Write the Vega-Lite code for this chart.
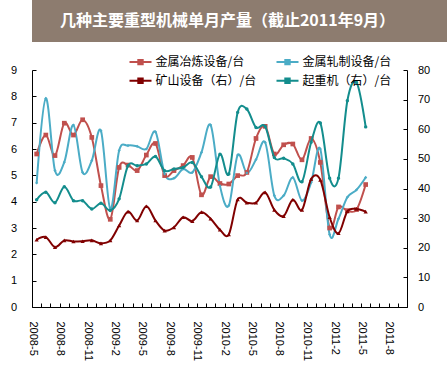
{
  "$schema": "https://vega.github.io/schema/vega-lite/v6.json",
  "padding": 0,
  "background": "white",
  "spacing": 22,
  "config": {"view": {"stroke": null}, "font": "Noto Sans CJK SC"},
  "datasets": {
    "header": [{"title": "几种主要重型机械单月产量（截止2011年9月）"}],
    "production": [
      {"month": "2008/05/01", "series": "金属冶炼设备/台", "value": 5.81},
      {"month": "2008/06/01", "series": "金属冶炼设备/台", "value": 6.53},
      {"month": "2008/07/01", "series": "金属冶炼设备/台", "value": 5.75},
      {"month": "2008/08/01", "series": "金属冶炼设备/台", "value": 6.98},
      {"month": "2008/09/01", "series": "金属冶炼设备/台", "value": 6.53},
      {"month": "2008/10/01", "series": "金属冶炼设备/台", "value": 7.11},
      {"month": "2008/11/01", "series": "金属冶炼设备/台", "value": 6.44},
      {"month": "2008/12/01", "series": "金属冶炼设备/台", "value": 4.61},
      {"month": "2009/01/01", "series": "金属冶炼设备/台", "value": 3.33},
      {"month": "2009/02/01", "series": "金属冶炼设备/台", "value": 5.30},
      {"month": "2009/03/01", "series": "金属冶炼设备/台", "value": 5.39},
      {"month": "2009/04/01", "series": "金属冶炼设备/台", "value": 5.18},
      {"month": "2009/05/01", "series": "金属冶炼设备/台", "value": 5.77},
      {"month": "2009/06/01", "series": "金属冶炼设备/台", "value": 6.21},
      {"month": "2009/07/01", "series": "金属冶炼设备/台", "value": 4.99},
      {"month": "2009/08/01", "series": "金属冶炼设备/台", "value": 5.18},
      {"month": "2009/09/01", "series": "金属冶炼设备/台", "value": 5.37},
      {"month": "2009/10/01", "series": "金属冶炼设备/台", "value": 5.68},
      {"month": "2009/11/01", "series": "金属冶炼设备/台", "value": 4.26},
      {"month": "2009/12/01", "series": "金属冶炼设备/台", "value": 4.95},
      {"month": "2010/01/01", "series": "金属冶炼设备/台", "value": 4.69},
      {"month": "2010/02/01", "series": "金属冶炼设备/台", "value": 4.67},
      {"month": "2010/03/01", "series": "金属冶炼设备/台", "value": 4.99},
      {"month": "2010/04/01", "series": "金属冶炼设备/台", "value": 5.11},
      {"month": "2010/05/01", "series": "金属冶炼设备/台", "value": 6.40},
      {"month": "2010/06/01", "series": "金属冶炼设备/台", "value": 6.86},
      {"month": "2010/07/01", "series": "金属冶炼设备/台", "value": 5.81},
      {"month": "2010/08/01", "series": "金属冶炼设备/台", "value": 6.16},
      {"month": "2010/09/01", "series": "金属冶炼设备/台", "value": 6.19},
      {"month": "2010/10/01", "series": "金属冶炼设备/台", "value": 5.59},
      {"month": "2010/11/01", "series": "金属冶炼设备/台", "value": 6.40},
      {"month": "2010/12/01", "series": "金属冶炼设备/台", "value": 5.49},
      {"month": "2011/01/01", "series": "金属冶炼设备/台", "value": 3.00},
      {"month": "2011/02/01", "series": "金属冶炼设备/台", "value": 3.80},
      {"month": "2011/03/01", "series": "金属冶炼设备/台", "value": 3.66},
      {"month": "2011/04/01", "series": "金属冶炼设备/台", "value": 3.70},
      {"month": "2011/05/01", "series": "金属冶炼设备/台", "value": 4.65},
      {"month": "2008/05/01", "series": "金属轧制设备/台", "value": 4.71},
      {"month": "2008/06/01", "series": "金属轧制设备/台", "value": 7.92},
      {"month": "2008/07/01", "series": "金属轧制设备/台", "value": 5.18},
      {"month": "2008/08/01", "series": "金属轧制设备/台", "value": 5.50},
      {"month": "2008/09/01", "series": "金属轧制设备/台", "value": 6.91},
      {"month": "2008/10/01", "series": "金属轧制设备/台", "value": 5.11},
      {"month": "2008/11/01", "series": "金属轧制设备/台", "value": 5.56},
      {"month": "2008/12/01", "series": "金属轧制设备/台", "value": 6.69},
      {"month": "2009/01/01", "series": "金属轧制设备/台", "value": 3.72},
      {"month": "2009/02/01", "series": "金属轧制设备/台", "value": 5.94},
      {"month": "2009/03/01", "series": "金属轧制设备/台", "value": 6.13},
      {"month": "2009/04/01", "series": "金属轧制设备/台", "value": 6.10},
      {"month": "2009/05/01", "series": "金属轧制设备/台", "value": 6.00},
      {"month": "2009/06/01", "series": "金属轧制设备/台", "value": 6.65},
      {"month": "2009/07/01", "series": "金属轧制设备/台", "value": 5.05},
      {"month": "2009/08/01", "series": "金属轧制设备/台", "value": 4.89},
      {"month": "2009/09/01", "series": "金属轧制设备/台", "value": 5.24},
      {"month": "2009/10/01", "series": "金属轧制设备/台", "value": 5.11},
      {"month": "2009/11/01", "series": "金属轧制设备/台", "value": 5.87},
      {"month": "2009/12/01", "series": "金属轧制设备/台", "value": 6.91},
      {"month": "2010/01/01", "series": "金属轧制设备/台", "value": 4.60},
      {"month": "2010/02/01", "series": "金属轧制设备/台", "value": 3.85},
      {"month": "2010/03/01", "series": "金属轧制设备/台", "value": 5.77},
      {"month": "2010/04/01", "series": "金属轧制设备/台", "value": 5.09},
      {"month": "2010/05/01", "series": "金属轧制设备/台", "value": 5.60},
      {"month": "2010/06/01", "series": "金属轧制设备/台", "value": 6.25},
      {"month": "2010/07/01", "series": "金属轧制设备/台", "value": 4.23},
      {"month": "2010/08/01", "series": "金属轧制设备/台", "value": 4.23},
      {"month": "2010/09/01", "series": "金属轧制设备/台", "value": 4.92},
      {"month": "2010/10/01", "series": "金属轧制设备/台", "value": 4.04},
      {"month": "2010/11/01", "series": "金属轧制设备/台", "value": 4.73},
      {"month": "2010/12/01", "series": "金属轧制设备/台", "value": 6.00},
      {"month": "2011/01/01", "series": "金属轧制设备/台", "value": 2.75},
      {"month": "2011/02/01", "series": "金属轧制设备/台", "value": 3.35},
      {"month": "2011/03/01", "series": "金属轧制设备/台", "value": 4.17},
      {"month": "2011/04/01", "series": "金属轧制设备/台", "value": 4.45},
      {"month": "2011/05/01", "series": "金属轧制设备/台", "value": 4.92},
      {"month": "2008/05/01", "series": "矿山设备（右）/台", "value": 22.7},
      {"month": "2008/06/01", "series": "矿山设备（右）/台", "value": 23.6},
      {"month": "2008/07/01", "series": "矿山设备（右）/台", "value": 20.2},
      {"month": "2008/08/01", "series": "矿山设备（右）/台", "value": 22.5},
      {"month": "2008/09/01", "series": "矿山设备（右）/台", "value": 22.1},
      {"month": "2008/10/01", "series": "矿山设备（右）/台", "value": 22.2},
      {"month": "2008/11/01", "series": "矿山设备（右）/台", "value": 22.5},
      {"month": "2008/12/01", "series": "矿山设备（右）/台", "value": 21.5},
      {"month": "2009/01/01", "series": "矿山设备（右）/台", "value": 22.5},
      {"month": "2009/02/01", "series": "矿山设备（右）/台", "value": 27.5},
      {"month": "2009/03/01", "series": "矿山设备（右）/台", "value": 32.2},
      {"month": "2009/04/01", "series": "矿山设备（右）/台", "value": 29.2},
      {"month": "2009/05/01", "series": "矿山设备（右）/台", "value": 34.0},
      {"month": "2009/06/01", "series": "矿山设备（右）/台", "value": 29.2},
      {"month": "2009/07/01", "series": "矿山设备（右）/台", "value": 25.8},
      {"month": "2009/08/01", "series": "矿山设备（右）/台", "value": 26.9},
      {"month": "2009/09/01", "series": "矿山设备（右）/台", "value": 30.3},
      {"month": "2009/10/01", "series": "矿山设备（右）/台", "value": 29.0},
      {"month": "2009/11/01", "series": "矿山设备（右）/台", "value": 32.0},
      {"month": "2009/12/01", "series": "矿山设备（右）/台", "value": 29.8},
      {"month": "2010/01/01", "series": "矿山设备（右）/台", "value": 26.1},
      {"month": "2010/02/01", "series": "矿山设备（右）/台", "value": 24.5},
      {"month": "2010/03/01", "series": "矿山设备（右）/台", "value": 36.3},
      {"month": "2010/04/01", "series": "矿山设备（右）/台", "value": 35.2},
      {"month": "2010/05/01", "series": "矿山设备（右）/台", "value": 35.2},
      {"month": "2010/06/01", "series": "矿山设备（右）/台", "value": 38.7},
      {"month": "2010/07/01", "series": "矿山设备（右）/台", "value": 32.8},
      {"month": "2010/08/01", "series": "矿山设备（右）/台", "value": 30.7},
      {"month": "2010/09/01", "series": "矿山设备（右）/台", "value": 36.2},
      {"month": "2010/10/01", "series": "矿山设备（右）/台", "value": 32.8},
      {"month": "2010/11/01", "series": "矿山设备（右）/台", "value": 43.2},
      {"month": "2010/12/01", "series": "矿山设备（右）/台", "value": 42.9},
      {"month": "2011/01/01", "series": "矿山设备（右）/台", "value": 30.3},
      {"month": "2011/02/01", "series": "矿山设备（右）/台", "value": 24.9},
      {"month": "2011/03/01", "series": "矿山设备（右）/台", "value": 32.3},
      {"month": "2011/04/01", "series": "矿山设备（右）/台", "value": 33.1},
      {"month": "2011/05/01", "series": "矿山设备（右）/台", "value": 32.2},
      {"month": "2008/05/01", "series": "起重机（右）/台", "value": 36.2},
      {"month": "2008/06/01", "series": "起重机（右）/台", "value": 38.7},
      {"month": "2008/07/01", "series": "起重机（右）/台", "value": 35.2},
      {"month": "2008/08/01", "series": "起重机（右）/台", "value": 40.6},
      {"month": "2008/09/01", "series": "起重机（右）/台", "value": 35.9},
      {"month": "2008/10/01", "series": "起重机（右）/台", "value": 35.9},
      {"month": "2008/11/01", "series": "起重机（右）/台", "value": 33.1},
      {"month": "2008/12/01", "series": "起重机（右）/台", "value": 35.0},
      {"month": "2009/01/01", "series": "起重机（右）/台", "value": 32.6},
      {"month": "2009/02/01", "series": "起重机（右）/台", "value": 36.5},
      {"month": "2009/03/01", "series": "起重机（右）/台", "value": 47.7},
      {"month": "2009/04/01", "series": "起重机（右）/台", "value": 47.7},
      {"month": "2009/05/01", "series": "起重机（右）/台", "value": 48.3},
      {"month": "2009/06/01", "series": "起重机（右）/台", "value": 50.8},
      {"month": "2009/07/01", "series": "起重机（右）/台", "value": 46.0},
      {"month": "2009/08/01", "series": "起重机（右）/台", "value": 46.6},
      {"month": "2009/09/01", "series": "起重机（右）/台", "value": 47.1},
      {"month": "2009/10/01", "series": "起重机（右）/台", "value": 48.8},
      {"month": "2009/11/01", "series": "起重机（右）/台", "value": 44.0},
      {"month": "2009/12/01", "series": "起重机（右）/台", "value": 40.5},
      {"month": "2010/01/01", "series": "起重机（右）/台", "value": 51.6},
      {"month": "2010/02/01", "series": "起重机（右）/台", "value": 44.9},
      {"month": "2010/03/01", "series": "起重机（右）/台", "value": 65.7},
      {"month": "2010/04/01", "series": "起重机（右）/台", "value": 66.8},
      {"month": "2010/05/01", "series": "起重机（右）/台", "value": 60.6},
      {"month": "2010/06/01", "series": "起重机（右）/台", "value": 60.9},
      {"month": "2010/07/01", "series": "起重机（右）/台", "value": 50.5},
      {"month": "2010/08/01", "series": "起重机（右）/台", "value": 50.2},
      {"month": "2010/09/01", "series": "起重机（右）/台", "value": 48.3},
      {"month": "2010/10/01", "series": "起重机（右）/台", "value": 42.3},
      {"month": "2010/11/01", "series": "起重机（右）/台", "value": 55.6},
      {"month": "2010/12/01", "series": "起重机（右）/台", "value": 62.1},
      {"month": "2011/01/01", "series": "起重机（右）/台", "value": 43.5},
      {"month": "2011/02/01", "series": "起重机（右）/台", "value": 43.5},
      {"month": "2011/03/01", "series": "起重机（右）/台", "value": 69.6},
      {"month": "2011/04/01", "series": "起重机（右）/台", "value": 75.8},
      {"month": "2011/05/01", "series": "起重机（右）/台", "value": 60.8}
    ]
  },
  "vconcat": [
    {
      "width": 447,
      "height": 42,
      "data": {"name": "header"},
      "view": {"fill": "#8D7C6F", "stroke": null},
      "mark": {"type": "text", "color": "white", "font": "Noto Sans CJK SC", "fontSize": 16, "fontWeight": "bold", "align": "center", "dx": -28},
      "encoding": {"text": {"field": "title"}}
    },
    {
      "width": 375,
      "height": 237,
      "data": {"name": "production"},
      "encoding": {
        "x": {
          "field": "month",
          "type": "temporal",
          "timeUnit": "yearmonth",
          "bandPosition": 0.5,
          "scale": {"domain": [{"year": 2008, "month": 5, "date": 1}, {"year": 2011, "month": 10, "date": 1}], "nice": false},
          "axis": {
            "title": null,
            "tickCount": {"interval": "month", "step": 1},
            "labelExpr": "month(datum.value) % 3 == 1 ? timeFormat(datum.value, '%Y-%-m') : ''",
            "labelAngle": 90,
            "labelAlign": "left",
            "labelBaseline": "middle",
            "labelOverlap": false,
            "labelFlush": false,
            "tickSize": -4,
            "labelPadding": 18,
            "grid": false,
            "domainColor": "black",
            "tickColor": "black",
            "labelColor": "black",
            "labelFont": "Liberation Sans",
            "labelFontSize": 11
          }
        },
        "color": {
          "field": "series",
          "type": "nominal",
          "scale": {
            "domain": ["金属冶炼设备/台", "金属轧制设备/台", "矿山设备（右）/台", "起重机（右）/台"],
            "range": ["#C0504D", "#4BACC6", "#800000", "#138D8D"]
          },
          "legend": {
            "title": null,
            "orient": "none",
            "legendX": 96.5,
            "legendY": 49.7,
            "direction": "horizontal",
            "columns": 2,
            "columnPadding": 16,
            "rowPadding": 0,
            "padding": 0,
            "symbolType": "M-1,0H1M-0.2,-0.2H0.2V0.2H-0.2Z",
            "symbolSize": 484,
            "symbolStrokeWidth": 2,
            "labelFont": "Noto Sans CJK SC",
            "labelFontSize": 12,
            "labelColor": "black",
            "labelOffset": 3,
            "labelLimit": 200
          }
        }
      },
      "layer": [
        {
          "transform": [{"filter": {"field": "series", "oneOf": ["金属冶炼设备/台", "金属轧制设备/台"]}}],
          "encoding": {
            "y": {
              "field": "value",
              "type": "quantitative",
              "scale": {"domain": [0, 9], "nice": false},
              "axis": {
                "title": null,
                "orient": "left",
                "values": [0, 1, 2, 3, 4, 5, 6, 7, 8, 9],
                "tickSize": -4,
                "labelPadding": 19.5,
                "grid": false,
                "domainColor": "black",
                "tickColor": "black",
                "labelColor": "black",
                "labelFont": "Liberation Sans",
                "labelFontSize": 11,
                "minExtent": 31.5,
                "maxExtent": 31.5
              }
            }
          },
          "layer": [
            {"mark": {"type": "line", "interpolate": "cardinal", "strokeWidth": 2}},
            {
              "transform": [{"filter": {"field": "series", "equal": "金属冶炼设备/台"}}],
              "mark": {"type": "point", "filled": true, "opacity": 1, "shape": "square", "size": 22}
            },
            {
              "transform": [{"filter": {"field": "series", "equal": "金属轧制设备/台"}}],
              "mark": {"type": "point", "filled": true, "opacity": 1, "shape": "diamond", "size": 10}
            }
          ]
        },
        {
          "transform": [{"filter": {"field": "series", "oneOf": ["矿山设备（右）/台", "起重机（右）/台"]}}],
          "encoding": {
            "y": {
              "field": "value",
              "type": "quantitative",
              "scale": {"domain": [0, 80], "nice": false},
              "axis": {
                "title": null,
                "orient": "right",
                "values": [0, 10, 20, 30, 40, 50, 60, 70, 80],
                "tickSize": -4,
                "labelPadding": 14.5,
                "grid": false,
                "domainColor": "black",
                "tickColor": "black",
                "labelColor": "black",
                "labelFont": "Liberation Sans",
                "labelFontSize": 11
              }
            }
          },
          "layer": [
            {"mark": {"type": "line", "interpolate": "cardinal", "strokeWidth": 2}},
            {
              "transform": [{"filter": {"field": "series", "equal": "矿山设备（右）/台"}}],
              "mark": {"type": "point", "filled": true, "opacity": 1, "shape": "triangle-up", "size": 18}
            },
            {
              "transform": [{"filter": {"field": "series", "equal": "起重机（右）/台"}}],
              "mark": {"type": "point", "filled": true, "opacity": 1, "shape": "circle", "size": 12}
            }
          ]
        }
      ],
      "resolve": {"scale": {"y": "independent"}}
    }
  ]
}
